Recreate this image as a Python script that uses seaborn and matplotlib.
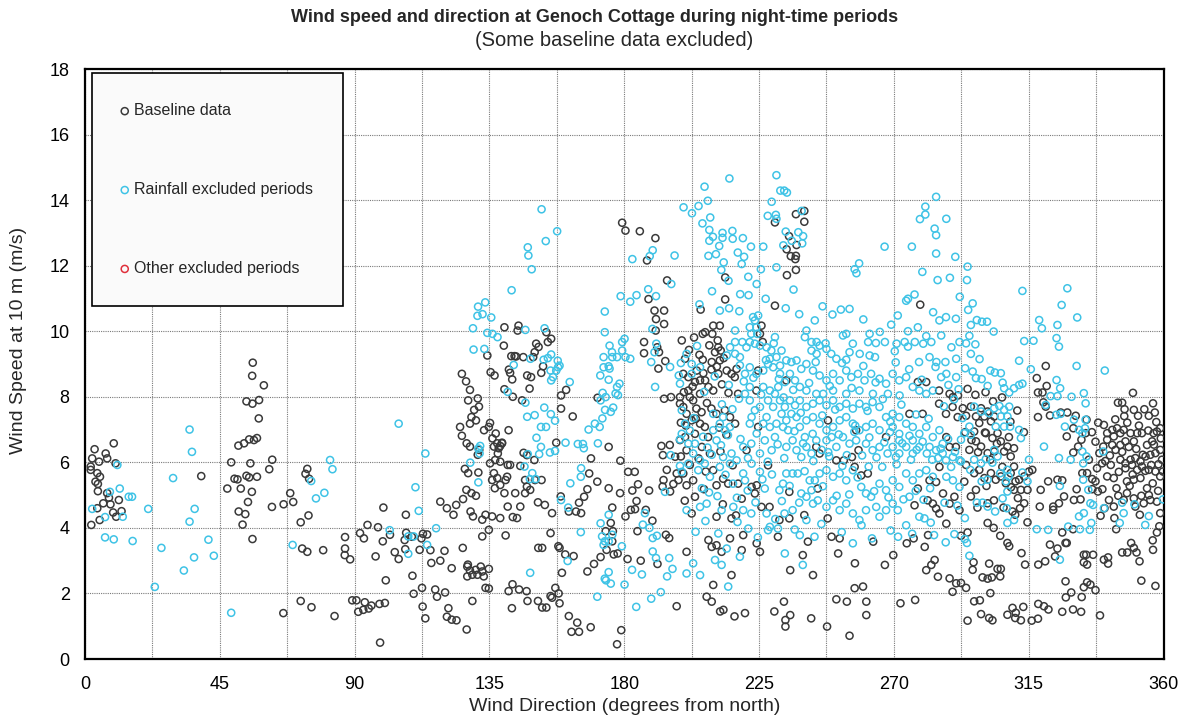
import numpy as np
import pandas as pd
import matplotlib
matplotlib.use("Agg")
import matplotlib.pyplot as plt
import seaborn as sns
from matplotlib import font_manager

# ---------------- data: [wind direction (deg), wind speed (m/s)] ----------------
baseline_0_100 = [
    [1.9,5.87],[3.2,6.40],[9.6,6.58],[6.9,6.27],[7.4,6.12],[4.7,6.02],[2.4,6.12],[1.9,5.77],[4.1,5.67],[5.0,5.56],
    [3.5,5.41],[4.3,5.34],[4.3,5.12],[7.4,5.06],[8.0,4.92],[11.3,4.85],[6.1,4.75],[8.5,4.72],[4.1,4.6],[9.4,4.47],
    [10.4,4.34],[12.2,4.51],[4.9,4.24],[2.1,4.09],[10.2,5.97],[38.8,5.58],
    [56.0,9.04],[55.8,8.64],[59.7,8.35],[53.9,7.86],[55.9,7.79],[58.1,7.9],[58.0,7.34],[51.2,6.51],[53.1,6.58],[54.8,6.7],
    [56.4,6.68],[57.4,6.74],[62.5,6.08],[48.8,6.0],[55.2,5.97],[61.5,5.79],[49.9,5.5],[50.9,5.48],[53.9,5.59],[54.8,5.54],
    [57.4,5.56],[47.5,5.2],[52.0,5.2],[55.7,5.1],[54.4,4.79],[51.3,4.5],[53.5,4.42],[52.6,4.1],[55.9,3.66],[62.4,4.64],
    [66.3,4.72],[68.5,5.06],[69.5,4.79],[72.0,4.17],[74.6,4.38],[74.2,5.8],[73.6,5.65],[74.8,5.5],[66.2,1.4],[72.0,1.77],
    [75.6,1.58],[83.3,1.31],[72.5,3.37],[74.2,3.27],[79.5,3.32],[86.8,3.72],[86.8,3.37],[86.7,3.17],[88.5,3.04],[91.8,3.84],
    [93.1,3.68],[94.3,4.09],[97.8,4.02],[99.4,3.59],[97.0,3.13],[100.4,2.4],[99.6,4.62],[98.5,0.5],[89.2,1.79],[90.6,1.79],
    [93.4,1.73],[91.2,1.44],[92.9,1.5],[94.7,1.54],[95.6,1.63],[98.3,1.68],[100.1,1.71],
]
baseline_100_200 = [
    [101.8,3.79],[103.4,3.26],[104.7,3.05],[106.9,3.35],[106.7,3.63],[107.1,4.4],[107.2,3.85],[109.1,3.73],[109.3,2.54],[109.7,1.99],
    [111.7,3.33],[112.3,3.68],[112.8,3.82],[112.5,2.17],[112.7,1.6],[113.6,1.24],[114.2,3.8],[115.3,3.32],[115.6,2.93],[116.9,2.12],
    [117.5,1.9],[118.6,3.0],[118.6,4.8],[120.0,3.3],[120.2,2.03],[120.8,4.6],[121.3,1.55],[120.8,1.29],[122.4,2.77],[122.4,1.2],
    [124.0,1.18],[123.0,4.4],[123.9,4.7],[125.8,8.7],[127.2,8.47],[126.1,3.39],[127.4,0.9],[127.8,2.88],[128.5,8.21],[127.9,7.89],
    [125.2,7.08],[125.8,6.81],[127.4,6.58],[128.5,7.18],[129.0,7.38],[129.9,7.6],[131.1,7.95],[131.5,7.7],[130.5,7.28],[128.5,6.48],
    [126.8,5.8],[127.9,5.67],[127.3,5.16],[129.0,5.06],[126.2,4.88],[128.7,4.5],[129.5,4.35],[130.5,4.98],[131.3,5.69],[131.1,6.23],
    [131.6,6.38],[127.6,2.82],[128.5,2.7],[127.6,2.52],[129.3,2.57],[130.4,2.72],[131.0,2.57],[132.1,2.82],[132.6,2.67],[133.1,2.52],
    [134.8,2.75],[129.3,1.77],[133.7,2.17],[134.8,2.15],[132.6,3.74],[132.6,4.25],[133.7,4.4],[134.3,9.26],[135.4,8.75],[136.7,8.65],
    [135.2,7.2],[133.2,6.98],[134.8,7.08],[136.0,6.73],[137.1,6.88],[137.6,6.58],[136.5,6.48],[138.1,6.43],[139.2,6.58],[137.8,6.27],
    [136.9,6.07],[138.6,6.02],[135.2,5.97],[136.5,5.67],[137.6,5.52],[135.9,5.46],[136.8,5.21],[138.6,5.31],[140.4,5.46],[140.9,5.56],
    [140.0,5.06],[141.1,5.92],[141.9,5.92],[143.6,5.06],[141.1,4.65],[142.8,4.33],[138.6,4.3],[135.9,4.35],[134.8,3.94],[140.4,3.77],
    [144.2,4.3],[145.3,4.65],[146.9,5.06],[140.0,10.12],[144.7,10.17],[144.4,10.02],[139.8,9.56],[142.3,9.24],[143.4,9.24],[143.9,9.23],
    [141.5,8.83],[141.9,8.73],[142.6,8.53],[140.0,8.23],[142.8,8.0],[146.3,9.21],[147.6,8.65],[148.9,8.6],[150.6,9.62],[151.4,9.52],
    [150.1,9.36],[149.6,9.21],[152.3,8.73],[152.9,8.93],[154.0,9.97],[154.5,9.67],[155.6,9.77],[148.4,8.25],[145.9,7.89],[141.4,6.98],
    [139.2,6.6],[138.6,6.5],[146.4,6.29],[147.5,6.22],[150.0,6.07],[145.3,5.89],[147.5,5.26],[148.6,5.16],[146.9,5.46],[150.2,5.46],
    [152.4,5.46],[151.2,4.78],[153.5,4.7],[155.9,4.45],[155.4,3.84],[151.3,3.39],[152.6,3.39],[158.0,3.44],[158.4,3.39],[157.0,2.17],
    [158.1,2.0],[155.4,1.92],[155.9,1.87],[158.4,1.7],[152.6,1.57],[154.0,1.57],[151.2,1.77],[147.7,1.77],[144.9,2.12],[142.7,2.28],
    [141.4,2.07],[142.5,1.55],[147.4,2.07],[159.2,2.63],[160.3,3.19],[163.1,3.14],[161.5,1.31],[164.3,1.11],[162.4,0.83],[164.9,0.83],
    [168.8,0.97],[167.7,2.67],[169.9,2.9],[172.1,3.11],[174.1,3.33],[177.6,0.45],[179.0,0.88],
    [158.9,8.04],[158.9,7.64],[162.8,7.4],[160.6,8.21],[157.3,6.6],[168.9,6.12],[168.3,5.66],[171.0,5.41],[167.7,5.18],[166.6,4.95],
    [164.9,4.77],[163.9,4.5],[165.6,4.45],[158.8,4.96],[161.5,4.5],[171.1,7.97],[174.8,6.47],[174.8,5.21],[178.6,5.06],[178.7,6.05],
    [181.3,5.71],[183.5,5.71],[182.7,5.14],[184.6,5.33],[184.1,4.82],[182.2,4.55],[180.4,4.35],[183.6,4.57],[187.2,4.55],[188.3,5.14],
    [176.0,4.62],[175.5,4.15],[173.8,3.9],[176.2,3.9],[176.0,3.59],[176.5,3.19],[177.8,3.22],[181.1,3.05],[184.4,3.9],[185.5,3.0],
    [189.4,4.22],[191.1,2.9],[193.9,3.79],[195.0,3.69],[192.8,5.26],[193.3,7.94],[188.1,10.98],[190.6,10.37],[193.3,10.63],[193.3,10.22],
    [191.4,8.86],[193.7,9.09],[195.6,7.99],[186.6,9.67],[186.6,9.33],[191.0,9.51],[191.6,9.36],[190.5,10.02],[190.1,10.63],[192.4,6.5],
    [195.2,6.53],[192.9,6.22],[197.0,6.17],[194.2,5.77],[193.1,5.46],[197.5,5.66],[198.1,5.46],[196.4,5.34],[195.3,5.11],[198.6,6.68],
    [198.9,7.21],[198.6,7.99],[197.5,1.61],
    [179.3,13.31],[180.4,13.07],[185.2,13.05],[190.4,12.84],[187.6,12.16],[194.3,11.55],
]
baseline_200_292 = [
    [213.7,11.64],[213.7,10.97],[230.3,13.32],[237.3,13.57],[240.1,13.67],[240.1,13.34],[235.0,12.9],[237.5,12.63],[234.2,12.5],[235.6,12.29],
    [237.3,12.3],[237.1,12.2],[234.3,11.71],[237.3,11.87],[230.3,10.78],[205.5,10.66],[278.8,10.81],
    [206.2,9.92],[207.0,9.97],[209.4,9.92],[209.7,10.17],[211.9,10.17],[211.2,9.72],[211.4,9.51],[212.2,9.41],[210.3,9.36],[225.8,10.17],
    [225.3,9.92],[226.2,9.67],[200.3,9.16],[206.2,9.13],[209.2,9.06],[211.9,9.11],
    [199.7,8.7],[201.4,8.6],[204.2,8.8],[203.6,8.45],[205.3,8.5],[207.0,8.5],[208.1,8.3],[209.7,8.19],[211.4,8.7],[214.2,8.8],
    [215.8,8.7],[216.9,8.6],[217.5,8.85],[201.4,8.19],[205.3,8.09],[201.9,7.99],[218.0,8.09],[224.7,8.8],[224.1,8.19],[234.1,8.5],
    [278.0,8.45],[280.8,8.45],[285.1,8.19],[288.6,8.09],[289.7,7.99],[291.4,8.04],
    [198.6,7.79],[199.7,7.69],[200.8,7.48],[203.0,7.89],[204.1,7.64],[205.8,7.53],[202.5,7.28],[205.3,7.18],[206.9,7.08],[209.1,7.64],
    [210.8,7.48],[213.6,7.59],[215.3,7.38],[217.0,7.18],[208.0,6.77],[203.6,6.87],[200.3,6.77],[205.9,6.47],[208.6,6.27],[200.8,6.37],
    [220.8,6.37],[224.7,7.08],[257.4,6.98],[267.4,6.77],[244.1,6.47],[245.2,6.27],[250.8,6.06],[253.3,6.06],[256.0,6.16],[258.2,6.37],
    [248.0,7.28],[275.2,7.48],[279.6,7.48],[285.1,7.79],[287.4,7.48],[289.6,7.69],[291.3,7.38],[287.5,6.77],[288.6,6.47],[290.7,6.47],
    [199.7,5.66],[200.8,5.3],[203.0,5.45],[203.6,4.95],[202.5,4.44],[209.7,5.76],[210.8,5.3],[213.0,5.5],[214.7,5.35],[218.0,5.35],
    [215.8,4.29],[210.8,4.34],[219.2,4.89],[222.5,5.25],[223.6,5.05],[224.2,5.3],[225.8,4.64],[228.5,4.64],[231.8,4.24],[235.1,4.29],
    [235.1,5.1],[240.1,4.39],[228.0,5.91],[244.6,5.2],[247.9,4.29],[259.1,5.6],[261.3,5.66],[256.9,5.86],[276.9,4.69],[278.0,5.2],
    [281.9,5.45],[284.1,5.4],[281.3,4.84],[283.0,4.74],[284.1,4.59],[285.2,4.44],[286.4,5.05],[288.6,4.74],[290.2,4.95],[291.9,4.54],
    [287.5,4.13],[285.2,5.86],
    [200.8,3.27],[208.1,3.63],[209.2,3.42],[210.8,3.47],[212.5,3.27],[215.3,3.68],[219.7,3.78],[219.2,3.32],[224.2,3.53],[225.3,3.27],
    [231.3,3.73],[241.3,3.58],[239.6,3.17],[235.4,2.71],[243.0,2.56],[249.2,3.73],[251.9,3.68],[251.4,3.22],[257.0,2.92],[263.1,3.58],
    [267.0,2.87],[269.8,3.17],[274.3,3.53],[276.6,3.68],[281.4,3.78],[280.3,3.42],[280.8,2.71],[282.5,2.87],[283.6,3.02],[284.7,2.51],
    [288.6,2.46],[290.8,2.31],[289.6,2.05],[209.7,2.26],[215.8,2.56],
    [207.5,1.9],[209.2,1.75],[212.0,1.45],[213.1,1.5],[216.8,1.3],[220.3,1.4],[230.1,1.45],[233.3,1.75],[235.4,1.34],[233.8,1.19],
    [233.8,0.99],[242.4,1.24],[247.7,0.99],[250.8,1.82],[254.3,1.75],[255.2,0.71],[256.9,2.16],[259.7,2.21],[260.8,1.75],[260.8,1.34],
    [272.2,1.7],[277.1,1.8],
    [199.2,9.72],[201.6,9.43],[203.3,9.81],[205.1,9.28],[208.4,9.57],[210.9,8.92],[213.2,9.18],[199.9,8.14],[202.8,8.31],[206.4,8.72],
    [209.1,8.83],[212.6,8.38],[214.8,8.12],[200.6,7.12],[203.9,7.33],[207.6,7.81],[211.7,7.06],[214.1,6.84],[198.9,6.18],[201.9,5.92],
    [204.8,6.12],[207.2,5.72],[212.1,6.33],[216.2,5.91],[200.2,4.83],[206.6,5.18],[212.9,4.72],[217.3,4.38],
]
baseline_292_360 = [
    [294.6,1.17],[299.1,1.37],[301.8,1.25],[302.9,1.18],[296.8,1.76],[298.7,1.79],[302.2,2.01],[294.1,2.17],[292.4,2.32],[299.6,2.49],
    [301.3,2.45],[302.7,2.49],[305.5,2.52],[296.3,2.72],[296.6,2.95],[301.8,2.91],[304.6,2.75],[305.7,2.75],[307.9,1.35],[309.6,1.56],
    [310.7,1.41],[310.5,1.25],[312.4,1.18],[313.2,1.59],[316.0,1.17],[318.1,1.23],[318.2,1.68],[320.1,1.61],[321.6,1.51],[326.2,1.44],
    [329.8,1.51],[332.5,1.44],[338.8,1.33],[327.4,1.88],[329.2,2.03],[332.7,1.89],[333.4,2.19],[334.5,2.34],[335.6,2.27],[337.3,2.1],
    [327.3,2.37],[307.9,3.54],[308.5,3.44],[312.6,3.23],[313.8,2.88],[318.2,2.88],[320.5,2.98],[322.1,3.49],[324.6,3.37],[323.8,3.13],
    [327.7,3.54],[333.4,3.18],[334.2,3.18],[336.5,3.18],[333.4,2.95],[334.5,2.88],[340.1,3.03],[341.5,3.1],[341.5,2.91],[346.2,3.25],
    [347.9,3.25],[349.2,3.54],[350.1,3.39],[351.0,3.25],[352.0,2.98],[352.6,2.39],[356.4,3.62],[356.5,3.33],[357.3,2.23],[292.4,3.76],
    [294.6,3.86],[305.5,3.76],[301.3,4.15],[303.3,4.0],[326.2,3.86],[327.3,3.54],[329.8,3.96],[344.2,3.96],[358.6,4.05],[357.8,3.86],
    [293.0,7.65],[294.1,7.42],[295.7,7.7],[297.4,7.4],[299.1,7.65],[300.2,7.4],[301.3,7.55],[302.4,7.25],[303.5,7.4],[298.5,7.2],
    [296.8,6.94],[300.7,6.89],[302.9,6.74],[304.6,6.89],[305.7,6.64],[297.4,6.64],[295.2,6.38],[299.1,6.48],[301.3,6.28],[303.5,6.33],
    [306.8,6.33],[307.9,6.48],[310.1,6.43],[309.0,6.18],[294.1,5.92],[296.8,5.67],[298.5,5.77],[300.2,5.52],[302.4,5.67],[304.0,5.47],
    [305.7,5.57],[307.4,5.36],[309.0,5.67],[310.1,5.87],[311.8,5.47],[313.5,5.57],[315.1,5.72],[316.2,5.77],[314.6,5.16],[312.4,5.16],
    [310.1,5.16],[297.4,5.16],[295.7,4.96],[301.3,4.75],[309.6,4.5],[310.5,4.4],[312.1,4.6],[313.5,4.75],[314.6,4.17],[318.7,4.65],
    [319.0,5.16],[321.5,5.42],[324.6,5.47],[326.2,5.45],[323.2,4.65],[323.2,4.55],[325.1,4.75],[326.8,4.96],[330.1,4.85],[331.0,5.18],
    [332.3,4.87],[332.9,5.67],[335.1,6.08],[334.5,5.67],[336.2,5.49],[336.2,5.18],[337.3,5.42],[338.1,5.11],[339.0,4.37],[340.3,4.6],
    [341.8,4.85],[343.4,4.65],[343.6,4.3],[341.2,5.57],[343.4,5.52],[344.3,5.21],[347.8,5.06],[346.7,4.85],[350.1,4.9],[350.6,4.65],
    [352.1,4.4],[353.4,4.75],[355.6,4.85],[357.8,4.8],[358.9,4.45],
    [320.7,8.94],[317.7,8.57],[321.0,8.33],[318.1,8.13],[319.6,8.13],[319.9,7.83],[320.7,7.7],[318.1,7.38],[322.1,7.43],[325.7,7.52],
    [327.9,7.52],[330.7,7.42],[329.9,7.04],[327.7,6.79],[329.9,6.3],[331.5,6.48],[332.6,6.69],[334.0,6.89],[334.3,7.3],[337.3,6.63],
    [338.6,6.28],[339.5,5.97],[340.1,7.14],[339.9,6.48],[341.2,6.69],[341.2,6.89],[342.9,6.99],[343.4,6.79],[344.5,7.04],[345.6,6.89],
    [346.7,6.99],[342.9,6.53],[344.0,6.38],[345.6,6.53],[347.3,6.64],[349.0,6.89],[350.1,6.64],[351.2,6.89],[352.8,6.89],[354.5,6.53],
    [356.2,6.64],[356.7,6.89],[357.8,6.94],[358.9,7.04],[345.6,6.08],[347.3,5.97],[349.0,6.08],[350.6,6.13],[352.3,6.03],[354.0,6.18],
    [355.6,6.23],[357.3,6.28],[358.9,6.38],[359.5,6.08],[347.3,5.82],[349.5,5.92],[351.2,5.77],[352.8,5.87],[355.1,5.77],[357.3,5.72],
    [358.9,5.57],[352.3,5.52],[350.1,5.47],[347.8,5.42],[354.5,5.21],[355.1,5.0],[344.8,7.82],[346.2,7.82],[347.0,7.62],[350.1,7.6],
    [351.5,7.42],[355.1,7.42],[356.5,7.8],[359.8,5.72],
    [293.8,6.92],[295.9,6.68],[298.1,6.31],[300.4,6.91],[302.2,6.08],[304.4,6.57],[306.2,5.86],[308.4,6.77],[310.6,5.42],[293.5,5.41],
    [297.9,4.62],[300.9,5.28],[303.4,4.84],[306.6,4.62],[309.1,5.24],[311.4,4.91],[294.6,8.24],[297.2,8.06],[300.6,8.14],[303.1,7.86],
    [306.1,7.98],[308.9,7.24],[311.2,7.58],[313.4,6.92],
    [336.1,6.92],[338.2,7.21],[340.6,6.04],[342.1,6.21],[343.9,7.31],[345.1,5.71],[346.2,6.32],[347.9,7.21],[348.4,6.47],[349.7,5.63],
    [350.9,6.41],[351.8,7.12],[353.1,6.23],[353.9,5.74],[354.9,6.97],[355.9,5.92],[356.8,6.54],[357.6,7.23],[358.3,5.94],[359.1,6.73],
    [337.8,5.82],[339.6,5.18],[342.4,5.92],[344.9,4.98],[348.7,5.28],[352.6,4.98],[356.4,5.36],[358.2,5.13],[346.9,7.41],[353.6,7.62],
    [349.8,8.12],[357.1,7.52],
]

rainfall_0_100 = [
    [10.8,5.92],[2.4,4.58],[8.3,5.1],[11.6,5.2],[14.6,4.95],[15.7,4.95],[6.7,4.33],[12.6,4.34],[6.7,3.71],[9.6,3.65],
    [15.9,3.6],[21.1,4.58],[23.3,2.2],[29.4,5.52],[34.9,7.0],[35.7,6.32],[25.5,3.39],[34.9,4.19],[36.6,4.58],[33.0,2.7],
    [36.4,3.1],[41.2,3.64],[43.0,3.15],[48.8,1.41],[69.3,3.48],[75.5,5.43],[77.1,4.9],[79.9,5.07],[81.8,6.07],[82.6,5.79],
    [101.7,3.93],
]
rainfall_100_200 = [
    [104.7,7.18],[113.6,6.27],[110.3,5.24],[111.4,4.52],[107.9,3.74],[109.7,3.74],[117.2,3.99],[114.2,3.48],[107.9,3.21],[128.6,5.99],
    [131.3,6.42],[131.7,6.27],[131.3,5.39],[129.5,10.09],[129.7,9.44],[131.2,10.75],[133.6,10.88],[131.0,10.47],[132.7,10.52],[135.6,10.42],
    [133.3,9.46],[134.3,9.95],[136.0,9.92],[137.7,9.82],[141.1,8.15],[143.1,8.97],[147.0,10.04],[148.7,9.16],[153.4,10.09],[153.1,9.13],
    [154.5,9.18],[147.0,7.82],[147.6,7.39],[150.1,7.44],[153.3,7.67],[155.5,7.47],[156.9,7.27],[152.2,7.08],[153.9,7.08],[150.7,6.75],
    [152.2,6.47],[155.2,6.3],[156.9,6.35],[151.6,6.25],[147.8,6.25],[146.7,5.87],[149.3,5.67],[150.4,5.49],[148.5,5.49],[131.9,6.5],
    [155.6,9.29],[155.4,8.8],[156.2,8.6],[157.8,9.1],[158.4,8.95],[157.3,8.8],[155.6,8.5],[161.8,8.45],[157.9,8.9],[160.4,6.6],
    [164.5,6.56],[166.2,6.56],[166.5,6.43],[171.2,6.58],[168.1,7.0],[170.2,7.18],[171.8,7.08],[172.7,7.34],[173.6,7.6],[172.1,7.89],
    [173.8,7.99],[175.5,7.54],[176.3,7.67],[177.1,8.1],[177.6,8.3],[177.9,8.05],[178.4,8.4],[172.8,8.12],[174.8,8.52],[172.0,8.65],
    [173.1,8.9],[174.8,8.93],[175.1,8.86],[173.1,9.21],[175.1,9.56],[175.9,9.36],[176.0,9.21],[177.6,9.21],[179.3,9.67],[180.1,9.77],
    [179.3,9.41],[180.4,9.21],[182.0,9.16],[173.5,9.97],[173.5,10.6],[182.0,10.9],[190.6,11.07],[189.4,10.07],[190.7,9.62],[190.1,9.36],
    [189.0,9.06],[190.3,8.3],[195.3,8.91],[198.2,8.65],[198.9,9.03],[165.6,5.82],[165.5,5.56],[162.0,5.36],[158.9,4.85],[161.3,4.62],
    [165.5,3.87],[161.1,2.99],[148.6,2.63],[171.0,1.9],[172.1,4.14],[174.8,4.4],[172.6,3.74],[173.5,3.59],[173.1,3.48],[174.8,3.59],
    [176.0,3.79],[174.8,2.65],[173.5,2.45],[175.5,2.3],[173.9,2.4],[179.2,3.44],[180.1,2.27],[182.6,2.72],[185.9,2.58],[184.0,1.59],
    [186.9,4.45],[186.2,4.1],[188.4,4.0],[189.5,3.69],[190.9,3.76],[189.5,3.28],[190.6,3.08],[195.0,3.08],[196.1,2.75],[194.3,2.52],
    [192.2,2.04],[189.0,1.84],[193.6,5.1],[195.5,6.22],[198.6,5.89],[198.6,6.7],
    [152.4,13.72],[157.6,13.05],[147.8,12.56],[148.0,12.31],[153.8,12.75],[149.1,11.89],[142.4,11.25],[182.7,12.2],[188.5,12.29],[189.5,12.47],
    [196.8,12.31],[195.7,11.44],[188.0,11.28],[184.1,11.1],[178.8,11.07],
]
rainfall_200_292 = [
    [215.1,14.66],[206.8,14.41],[230.8,14.76],[232.1,14.29],[233.4,14.29],[234.3,14.23],[229.2,13.95],[199.8,13.78],[202.6,13.6],[204.8,13.82],
    [207.9,13.98],[208.7,13.47],[206.1,13.29],[208.4,13.09],[208.4,12.76],[209.6,12.88],[208.1,12.3],[210.6,12.35],[211.7,12.6],[212.8,13.0],
    [212.8,12.85],[216.1,13.06],[216.2,12.82],[219.6,12.84],[217.9,12.4],[220.0,12.27],[219.2,12.05],[222.3,12.58],[213.2,12.1],[226.4,12.58],
    [227.9,13.52],[230.6,13.55],[230.8,13.43],[233.9,13.04],[238.1,13.02],[239.7,12.9],[239.4,12.68],[235.9,12.76],[233.1,12.62],[230.8,11.95],
    [225.6,11.89],[221.4,11.66],[224.2,11.44],[214.8,11.54],[218.7,11.13],[221.5,11.1],[227.2,10.99],[239.2,13.67],[266.9,12.58],[276.0,12.58],
    [256.9,11.89],[257.5,11.77],[258.4,12.07],[279.5,11.81],[284.6,11.56],[280.5,13.8],[280.5,13.56],[278.7,13.42],[284.1,14.1],[287.5,13.43],
    [283.6,13.13],[284.1,12.93],[284.1,12.37],[290.5,12.27],[292.0,11.05],[274.7,10.99],
    [211.9,10.63],[215.0,10.7],[218.4,10.61],[233.9,10.7],[243.6,10.33],[249.5,10.51],[252.3,10.66],[255.2,10.68],[274.1,10.93],[285.2,10.33],
    [287.4,10.43],[290.7,10.38],[271.3,10.48],[269.1,10.2],[274.7,10.0],[278.0,10.12],[280.8,9.85],[261.9,9.92],[254.1,9.92],[261.4,9.67],
    [223.0,10.43],[224.7,10.48],[223.6,10.33],[221.9,10.12],[224.1,10.12],[222.4,9.92],[224.4,9.92],[221.9,9.67],[223.6,9.62],[220.8,9.51],
    [219.4,9.67],[217.0,9.67],[215.3,9.51],[214.2,9.26],[217.0,9.31],[218.6,9.21],[230.3,9.82],[225.3,9.56],[227.5,9.51],[229.1,9.41],
    [228.6,9.16],[230.8,9.21],[232.5,9.41],[240.8,10.02],[240.3,9.82],[242.5,9.67],[244.2,9.67],[245.2,9.56],[247.2,9.63],[242.5,9.41],
    [244.2,9.31],[247.5,9.46],[253.0,9.87],[256.3,9.62],[258.6,9.31],[255.2,9.36],[254.1,9.13],[250.8,9.16],[249.1,9.31],[264.0,9.64],
    [267.0,9.67],[270.9,9.62],[273.6,9.67],[274.7,9.53],[277.0,9.67],[279.8,9.62],[282.5,9.67],[285.8,9.87],[289.2,9.51],[291.9,9.67],
    [263.7,9.21],[261.9,9.26],[270.3,9.39],[278.4,9.06],[281.9,9.21],[284.2,9.06],[287.2,9.06],[290.8,9.16],[200.8,9.31],[202.5,9.0],
    [217.0,10.02],
    [198.6,8.4],[202.5,8.7],[205.3,8.9],[218.6,8.96],[220.3,8.7],[221.9,8.9],[224.1,8.7],[226.4,8.8],[228.0,9.0],[229.7,8.9],
    [232.0,8.95],[234.1,9.11],[235.8,9.06],[237.5,9.11],[239.1,8.85],[240.8,9.0],[232.0,8.7],[233.6,8.45],[235.3,8.7],[237.0,8.5],
    [238.6,8.3],[231.4,8.3],[228.6,8.19],[230.3,8.09],[226.4,8.3],[221.9,8.3],[220.3,8.09],[243.0,8.8],[245.2,8.65],[247.5,8.5],
    [249.7,8.7],[251.9,8.5],[254.1,8.8],[255.8,8.6],[258.0,8.7],[260.2,8.5],[262.4,8.7],[265.2,8.55],[267.4,8.4],[269.6,8.7],
    [271.8,8.5],[274.1,8.6],[276.3,8.3],[278.5,8.19],[280.8,8.09],[283.0,8.19],[285.8,8.6],[287.5,8.7],[290.8,8.6],[246.4,8.09],
    [249.7,8.19],[254.1,8.09],[258.5,8.19],[263.0,8.09],[268.0,8.09],[271.9,8.04],[240.8,8.19],[244.1,8.09],
    [199.2,7.59],[200.3,7.18],[199.2,6.87],[201.9,6.97],[203.6,6.57],[201.4,6.57],[203.0,6.27],[205.3,6.06],[209.7,7.48],[211.9,7.18],
    [213.0,7.38],[210.8,6.67],[213.6,6.98],[215.3,7.08],[209.7,6.98],[221.9,7.89],[223.6,7.59],[222.5,7.38],[225.3,7.69],[228.0,7.89],
    [229.7,7.69],[232.0,7.89],[233.6,7.69],[235.3,7.89],[237.0,7.74],[238.6,7.89],[232.5,7.48],[234.1,7.28],[235.8,7.48],[237.5,7.38],
    [233.0,7.08],[234.7,6.98],[230.8,7.18],[227.5,7.38],[226.4,7.18],[228.6,7.08],[230.3,6.77],[240.8,7.69],[243.0,7.79],[245.2,7.89],
    [247.5,7.74],[249.7,7.89],[251.9,7.69],[254.1,7.79],[256.3,7.64],[258.5,7.79],[260.7,7.69],[262.9,7.84],[265.2,7.69],[267.4,7.38],
    [269.6,7.48],[271.8,7.38],[240.8,7.28],[243.0,7.38],[245.2,7.18],[247.5,6.98],[249.7,7.08],[251.9,7.28],[254.1,7.38],[256.3,7.18],
    [258.5,6.98],[260.7,7.08],[262.9,7.18],[265.2,6.98],[269.6,7.08],[271.8,6.87],[274.1,7.18],[276.3,7.08],[278.5,6.87],[280.8,7.08],
    [283.0,6.77],[285.2,6.98],[286.3,6.57],[284.1,6.37],[281.9,6.47],[286.3,6.27],[287.4,6.06],[289.7,6.16],[291.9,6.06],[237.5,6.37],
    [239.1,6.16],[240.8,6.47],[242.5,6.27],[244.1,6.67],[247.5,6.67],[249.2,6.77],[250.8,6.47],[253.0,6.77],[255.2,6.57],[257.4,6.67],
    [260.7,6.57],[262.9,6.37],[265.2,6.47],[267.9,6.27],[269.6,6.47],[271.8,6.27],[274.1,6.47],[276.3,6.27],[278.5,6.47],[281.0,6.27],
    [271.8,6.67],[276.3,6.67],[238.6,7.08],[240.3,6.77],[236.2,6.67],[234.1,6.47],[217.5,6.06],[219.7,6.47],[215.8,6.27],[213.0,6.16],
    [222.4,6.57],[225.3,6.27],[226.9,6.67],[229.2,6.37],[221.9,7.18],
    [199.2,5.71],[201.4,5.96],[204.7,5.76],[206.9,5.96],[208.6,5.56],[211.9,5.86],[215.3,5.96],[219.7,5.66],[222.5,5.96],[225.3,5.71],
    [216.3,5.35],[220.3,5.45],[226.9,5.2],[231.8,5.15],[233.0,5.35],[234.1,5.66],[236.2,5.66],[237.9,5.66],[239.1,5.05],[240.8,4.95],
    [242.5,5.15],[241.9,5.45],[243.6,5.45],[245.2,5.66],[247.5,5.76],[249.7,5.56],[251.9,5.66],[254.1,5.45],[256.3,5.76],[259.1,5.25],
    [260.7,5.05],[262.4,4.95],[265.2,5.35],[267.4,5.15],[269.6,5.45],[271.8,5.25],[274.1,5.66],[276.3,5.45],[278.5,5.66],[280.8,5.76],
    [283.0,5.56],[287.5,5.56],[289.7,5.45],[291.9,5.25],[243.0,4.74],[244.6,4.84],[247.5,4.64],[249.7,4.84],[251.9,4.54],[254.1,4.74],
    [256.3,4.44],[258.5,4.24],[260.7,4.54],[264.1,4.64],[267.4,4.54],[269.6,4.74],[271.3,4.54],[236.2,4.54],[233.5,4.44],[227.5,4.44],
    [228.6,4.03],[222.4,4.44],[219.7,4.54],[216.4,4.64],[212.5,4.54],[207.5,4.74],[205.3,4.64],[200.8,4.54],[278.5,4.34],[280.2,4.29],
    [275.2,4.95],[265.2,4.34],[240.8,4.24],
    [200.8,2.61],[203.0,2.92],[205.3,2.56],[210.3,3.02],[212.5,2.87],[214.2,3.37],[214.7,2.21],[218.6,3.12],[221.4,3.98],[228.0,3.93],
    [231.3,3.98],[233.6,3.22],[238.6,3.78],[239.6,2.87],[243.5,3.73],[256.3,3.53],[271.4,3.73],[274.1,4.08],[283.4,3.78],
    [204.3,9.55],[206.7,8.15],[203.2,7.35],[207.8,6.45],[210.2,8.62],[212.6,7.77],[214.9,8.36],[216.1,7.62],[218.3,7.94],[219.9,8.47],
    [223.1,8.58],[225.7,8.07],[227.3,9.12],[229.9,9.63],[231.6,8.54],[233.2,7.98],[236.4,8.21],[238.9,7.51],[241.7,8.42],[243.9,9.06],
    [246.1,7.43],[248.6,8.33],[250.4,7.61],[252.7,9.03],[255.9,8.27],[257.1,7.12],[259.8,8.94],[261.2,7.57],[263.9,8.44],[266.3,7.93],
    [268.8,7.24],[270.6,9.05],[272.5,7.76],[275.1,8.84],[277.4,7.46],[279.3,8.52],[281.6,7.33],[283.9,8.91],[286.7,7.71],[288.2,8.36],
    [290.1,7.92],[291.6,8.23],
    [205.9,5.21],[208.3,5.08],[211.1,4.97],[213.8,5.62],[217.6,4.92],[221.2,5.14],[223.8,4.78],[226.1,5.48],[229.3,5.63],[232.6,4.82],
    [235.2,5.28],[238.4,4.77],[240.2,5.73],[243.1,6.04],[246.3,5.27],[248.4,6.18],[250.9,4.98],[252.8,5.89],[255.1,5.02],[257.9,5.54],
    [261.6,5.87],[263.4,5.12],[266.1,5.86],[268.2,4.93],[270.9,5.94],[273.2,4.87],[275.7,6.08],[277.3,5.13],[279.9,4.86],[282.1,5.21],
    [284.8,6.13],[286.9,4.77],[289.1,5.86],[291.2,4.68],
    [206.3,6.78],[209.2,6.23],[212.3,6.52],[214.6,6.83],[218.8,6.71],[221.3,6.13],[224.2,6.88],[227.9,6.02],[231.2,6.55],[233.4,6.13],
    [236.8,6.95],[239.7,6.58],[242.9,6.87],[245.9,6.38],[248.1,6.31],[251.6,6.85],[254.3,6.22],[256.8,6.93],[259.4,6.21],[261.8,6.76],
    [264.2,6.15],[266.8,6.61],[268.7,6.92],[270.7,6.16],[272.8,6.58],[275.2,6.81],[277.6,6.38],[279.6,6.63],[282.8,6.08],[285.6,6.42],
    [288.1,6.71],[290.4,6.32],
    [203.8,3.88],[207.1,4.21],[211.4,3.83],[217.8,4.18],[224.6,3.71],[230.4,4.27],[236.9,3.95],[245.8,4.12],[252.6,3.87],[259.2,4.08],
    [262.7,3.68],[268.9,3.92],[276.1,3.82],[282.3,4.16],[287.3,3.56],[290.2,3.81],
    [205.1,10.82],[209.3,11.22],[212.4,11.87],[236.5,11.27],[238.4,10.52],[246.2,10.76],[259.8,10.36],[265.3,9.98],[276.9,11.12],[283.1,10.58],
    [288.7,11.63],
]
rainfall_292_360 = [
    [294.6,11.97],[294.4,11.56],[312.9,11.23],[327.9,11.31],[296.3,10.85],[294.8,10.65],[297.7,10.34],[299.4,10.29],[301.1,10.29],[295.7,10.19],
    [303.3,9.99],[318.5,10.34],[319.4,10.09],[324.6,10.19],[326.0,10.8],[331.2,10.42],[295.2,9.86],[294.1,9.63],[297.2,9.6],[295.7,9.31],
    [298.6,9.15],[313.5,9.7],[316.6,9.71],[324.3,9.79],[325.1,9.53],[311.8,9.1],[315.7,8.84],[331.0,8.94],[340.4,8.8],[293.8,8.87],
    [296.3,8.77],[302.2,8.8],[303.7,8.74],[305.7,8.72],[297.4,8.57],[299.3,8.54],[301.3,8.33],[306.3,8.43],[306.8,8.26],[308.5,8.13],
    [310.1,8.26],[311.8,8.36],[312.9,8.4],[324.3,8.51],[325.5,8.26],[322.3,8.02],[324.6,8.02],[329.3,8.0],[333.4,8.11],[334.0,7.8],
    [320.7,7.75],[324.2,7.45],[325.7,7.48],[334.0,7.3],[330.1,7.3],[327.1,7.09],[331.8,6.99],[332.9,6.89],[333.8,7.04],[320.1,6.48],
    [325.1,6.13],[329.0,6.08],[332.9,6.33],[333.2,5.97],[334.3,6.18],[339.9,6.33],[333.2,5.47],[334.9,5.16],[335.6,4.75],[336.5,4.7],
    [331.8,4.35],[333.4,4.45],[335.9,4.15],[340.1,4.6],[346.2,4.77],[350.3,4.72],[346.7,4.45],[345.4,4.15],[353.9,4.09],[355.1,4.36],
    [359.8,4.87],[325.4,5.28],[325.4,3.03],[317.7,3.96],[321.5,3.94],[328.2,4.04],[332.1,3.96],[335.4,3.94],[315.1,6.08],[312.9,5.69],
    [314.6,5.42],[308.3,5.57],[307.4,5.42],[307.9,5.11],[306.3,4.9],[303.8,4.5],[307.7,4.6],[310.1,4.24],[307.9,4.15],[297.7,4.77],
    [301.3,4.65],[299.6,4.77],[293.7,4.3],[294.4,3.54],[293.7,3.66],[295.2,3.15],[292.4,6.03],[296.8,6.08],[299.1,5.97],[300.7,6.1],
    [302.9,5.99],[304.6,6.18],[303.5,6.38],[295.5,5.77],[299.3,5.42],[301.3,5.47],[305.5,5.67],[307.9,5.77],[292.4,6.69],[293.5,6.89],
    [295.2,7.09],[292.9,7.35],[296.8,7.7],[299.1,7.55],[301.8,7.5],[303.5,7.65],[305.2,7.72],[306.8,7.6],[308.5,7.7],[307.9,7.4],
    [305.7,7.4],[304.0,7.09],[306.8,7.09],[308.8,7.09],[311.8,6.99],[312.4,6.74],[295.7,6.84],
]
other_dir = []
other_speed = []

series_names = ["Baseline data", "Rainfall excluded periods", "Other excluded periods"]
series_colors = ["#3a3a3a", "#3fc3e6", "#e0303c"]


def to_frame(parts, name):
    arr = np.array([p for part in parts for p in part], dtype=float).reshape(-1, 2)
    return pd.DataFrame({"direction": arr[:, 0], "speed": arr[:, 1], "series": name})


baseline = to_frame([baseline_0_100, baseline_100_200, baseline_200_292, baseline_292_360], series_names[0])
rainfall = to_frame([rainfall_0_100, rainfall_100_200, rainfall_200_292, rainfall_292_360], series_names[1])

sns.set_style("white")
avail = {f.name for f in font_manager.fontManager.ttflist}
plt.rcParams["font.family"] = ["Liberation Sans", "DejaVu Sans"]
narrow = ["Liberation Sans Narrow", "Liberation Sans", "DejaVu Sans"] if "Liberation Sans Narrow" in avail else ["Liberation Sans", "DejaVu Sans"]

W, H = 1190, 721
fig = plt.figure(figsize=(W / 100, H / 100), dpi=100)
ax = fig.add_axes([85 / W, 62 / H, (1163.5 - 85) / W, 590 / H])

for df, color in [(baseline, series_colors[0]), (rainfall, series_colors[1])]:
    sns.scatterplot(data=df, x="direction", y="speed", ax=ax, marker="o", s=26,
                    facecolor="none", edgecolor=color, linewidth=1.1,
                    label=df["series"].iloc[0], legend=False, zorder=3)
ax.scatter(other_dir, other_speed, s=26, marker="o", facecolor="none",
           edgecolor=series_colors[2], linewidth=1.1, label=series_names[2], zorder=3)

ax.set_xlim(0, 360)
ax.set_ylim(0, 18)
ax.set_xticks(np.arange(0, 361, 45))
ax.set_xticks(np.arange(0, 361, 22.5), minor=True)
ax.set_yticks(np.arange(0, 19, 2))
ax.grid(True, which="both", axis="x", linestyle=(0, (1, 1)), color="#7a7a7a", linewidth=0.8)
ax.grid(True, which="major", axis="y", linestyle=(0, (1, 1)), color="#7a7a7a", linewidth=0.8)
ax.set_axisbelow(True)
ax.tick_params(axis="x", which="minor", length=0)
ax.tick_params(axis="both", which="major", direction="out", length=4, width=1,
               labelsize=13, colors="black")
ax.tick_params(axis="x", which="major", pad=8)
ax.tick_params(axis="y", which="major", pad=7)
for sp in ax.spines.values():
    sp.set_visible(True)
    sp.set_color("black")
    sp.set_linewidth(1.6)

ax.set_xlabel("Wind Direction (degrees from north)", fontsize=14, labelpad=4)
ax.set_ylabel("Wind Speed at 10 m (m/s)", fontsize=14)
ax.yaxis.set_label_coords((27 - 85) / (1163.5 - 85), 0.54)

leg = ax.legend(loc="upper left", bbox_to_anchor=(92 / W, 1 - 73 / H), bbox_transform=fig.transFigure,
                fontsize=11.5, borderpad=1.9, labelspacing=4.0, handlelength=0.3, handletextpad=0.4,
                frameon=True, fancybox=False, framealpha=1, borderaxespad=0)
leg.get_frame().set_edgecolor("black")
leg.get_frame().set_linewidth(1.2)
leg.get_frame().set_facecolor("#fafafa")

fig.text(0.5, 1 - 17 / H, "Wind speed and direction at Genoch Cottage during night-time periods",
         ha="center", va="center", fontsize=13, fontweight="bold", family=narrow)
fig.text(0.516, 1 - 40 / H, "(Some baseline data excluded)",
         ha="center", va="center", fontsize=14.5, family=narrow)

fig.savefig("out.png", dpi=100)
